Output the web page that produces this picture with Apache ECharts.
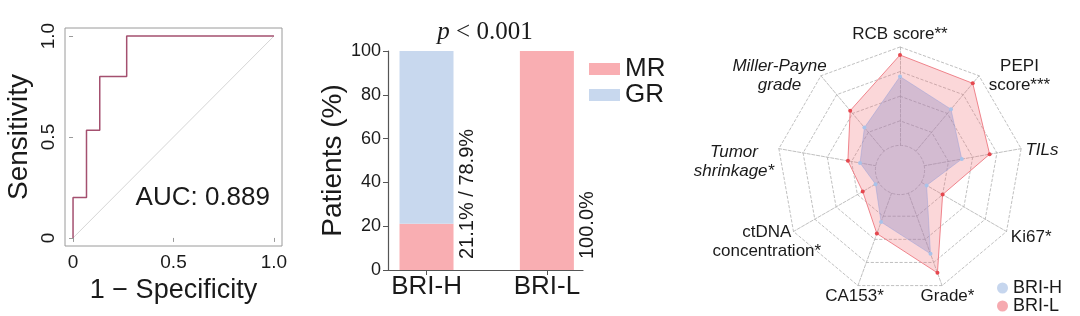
<!DOCTYPE html>
<html><head><meta charset="utf-8">
<script src="https://cdn.jsdelivr.net/npm/echarts@6/dist/echarts.min.js"></script>
<style>html,body{margin:0;padding:0;background:#fff}#c{width:1080px;height:316px}</style>
</head><body><div id="c"></div>
<script>
// ---------- DATA ----------
// ROC curve (1 - specificity, sensitivity)
const rocFpr = [0, 0, 0.067, 0.067, 0.133, 0.133, 0.267, 0.267, 1];
const rocTpr = [0, 0.2, 0.2, 0.533, 0.533, 0.8, 0.8, 1, 1];
const rocTicks = [0, 0.5, 1];
const aucText = 'AUC: 0.889';
// Stacked bars (% patients)
const groups = ['BRI-H', 'BRI-L'];
const mrPct = [21.1, 100.0];
const grPct = [78.9, 0];
const barTicks = [0, 20, 40, 60, 80, 100];
// Radar (clockwise from top)
const radarNames = ['RCB score**', 'PEPI\nscore***', 'TILs', 'Ki67*', 'Grade*', 'CA153*',
  'ctDNA\nconcentration*', 'Tumor\nshrinkage*', 'Miller-Payne\ngrade'];
const briH = [0.76, 0.645, 0.51, 0.25, 0.725, 0.45, 0.23, 0.33, 0.45];
const briL = [0.935, 0.92, 0.74, 0.40, 0.89, 0.55, 0.35, 0.43, 0.63];

// ---------- STYLE / LAYOUT ----------
const FONT = '"Liberation Sans", Arial, Helvetica, sans-serif';
const SERIF = '"Liberation Serif", "Times New Roman", serif';
const italicIdx = [2, 7, 8];
const nameShift = [[0, -3], [34, 8], [11, 3], [16, 1], [2, 1], [0, 1], [-18, 5], [-35, 15], [-35, 8]];
const ccwOrder = [0, 8, 7, 6, 5, 4, 3, 2, 1];

const rich = {};
const nameText = {};
radarNames.forEach((nm, i) => {
  const lines = nm.split('\n');
  const dx = nameShift[i][0], dy = nameShift[i][1];
  const parts = lines.map((ln, j) => {
    const key = 'r' + i + '_' + j;
    const pt = (j === 0 && dy > 0) ? 2 * dy : 0;
    const pb = (j === lines.length - 1 && dy < 0) ? -2 * dy : 0;
    const pl = dx > 0 ? 2 * dx : 0;
    const pr = dx < 0 ? -2 * dx : 0;
    rich[key] = {
      fontSize: 17, fontFamily: FONT, color: '#1a1a1a', align: 'center',
      fontStyle: italicIdx.indexOf(i) >= 0 ? 'italic' : 'normal',
      padding: [pt, pr, pb, pl], lineHeight: 19 + pt + pb
    };
    return '{' + key + '|' + ln + '}';
  });
  nameText[nm] = parts.join('\n');
});

const chart = echarts.init(document.getElementById('c'), null, {renderer: 'canvas'});
const gridLine = '#b0b0b0';

chart.setOption({
  animation: false,
  backgroundColor: '#fff',
  textStyle: {fontFamily: FONT, color: '#1a1a1a'},
  title: [
    {text: aucText, left: 270, top: 185, textAlign: 'right', padding: 0,
     textStyle: {fontSize: 26, fontWeight: 'normal', color: '#1a1a1a', fontFamily: FONT}},
    {text: '{i|p} < 0.001', left: 485, top: 20, textAlign: 'center', padding: 0,
     textStyle: {fontSize: 25, fontWeight: 'normal', color: '#1a1a1a', fontFamily: SERIF,
       rich: {i: {fontStyle: 'italic', fontSize: 25, fontFamily: SERIF, color: '#1a1a1a'}}}}
  ],
  legend: [
    {data: ['MR', 'GR'], orient: 'vertical', left: 589, top: 56, padding: 0, itemWidth: 31, itemHeight: 12, itemGap: 0,
     icon: 'rect', selectedMode: false,
     textStyle: {fontSize: 26, color: '#1a1a1a', lineHeight: 25, fontFamily: FONT}},
    {data: [{name: 'BRI-H', itemStyle: {color: '#c6d6ee'}}, {name: 'BRI-L', itemStyle: {color: '#f6aab0'}}],
     orient: 'vertical', left: 997, top: 279, padding: 0, itemWidth: 11, itemHeight: 11, itemGap: 0,
     icon: 'circle', selectedMode: false,
     textStyle: {fontSize: 18, color: '#1a1a1a', lineHeight: 16, fontFamily: FONT}}
  ],
  grid: [
    {left: 65, top: 28, width: 217, height: 218, show: true, borderColor: '#9a9a9a', borderWidth: 1, backgroundColor: 'transparent'},
    {left: 388, top: 51, width: 195, height: 219}
  ],
  xAxis: [
    {gridIndex: 0, type: 'value', min: -0.04, max: 1.04,
     axisLine: {show: false},
     axisTick: {show: true, customValues: rocTicks, length: 4, lineStyle: {color: '#9a9a9a'}},
     axisLabel: {customValues: rocTicks, formatter: v => v === 0 ? '0' : v.toFixed(1), fontSize: 19, margin: 7, color: '#1a1a1a'},
     splitLine: {show: false},
     name: '1 \u2212 Specificity', nameLocation: 'middle', nameGap: 22,
     nameTextStyle: {fontSize: 27, color: '#1a1a1a'}},
    {gridIndex: 1, type: 'value', min: 0.68, max: 2.3,
     axisLine: {show: true, lineStyle: {color: '#555', width: 1.2}},
     axisTick: {show: true, customValues: [1, 2], length: 5, lineStyle: {color: '#555'}},
     axisLabel: {customValues: [1, 2], formatter: v => groups[Math.round(v) - 1], fontSize: 26, margin: 4, color: '#1a1a1a'},
     splitLine: {show: false}}
  ],
  yAxis: [
    {gridIndex: 0, type: 'value', min: -0.04, max: 1.04,
     axisLine: {show: false},
     axisTick: {show: true, customValues: rocTicks, length: 4, lineStyle: {color: '#9a9a9a'}},
     axisLabel: {customValues: rocTicks, formatter: v => v === 0 ? '0' : v.toFixed(1), fontSize: 19, margin: 7, rotate: 90, color: '#1a1a1a'},
     splitLine: {show: false},
     name: 'Sensitivity', nameLocation: 'middle', nameGap: 32,
     nameTextStyle: {fontSize: 28, color: '#1a1a1a'}},
    {gridIndex: 1, type: 'value', min: 0, max: 100, interval: 20,
     axisLine: {show: true, lineStyle: {color: '#555', width: 1.2}},
     axisTick: {show: true, length: 5, lineStyle: {color: '#555'}},
     axisLabel: {fontSize: 18, margin: 7, color: '#1a1a1a'},
     splitLine: {show: false},
     name: 'Patients (%)', nameLocation: 'middle', nameGap: 40,
     nameTextStyle: {fontSize: 28, color: '#1a1a1a'}}
  ],
  radar: [
    {center: [900, 170], radius: 123, startAngle: 90, shape: 'polygon', splitNumber: 5, nameGap: 10,
     indicator: ccwOrder.map(i => ({name: radarNames[i], min: 0, max: 1})),
     axisName: {formatter: (n) => nameText[n], rich: rich, align: 'center', verticalAlign: 'middle', color: '#1a1a1a', fontSize: 17},
     axisLine: {lineStyle: {color: gridLine, type: 'dashed', width: 0.8}},
     splitLine: {lineStyle: {color: [gridLine, 'rgba(0,0,0,0)', gridLine, gridLine, gridLine, gridLine], type: 'dashed', width: 0.8}},
     splitArea: {show: false}},
    {center: [900, 170], radius: 24.6, startAngle: 90, shape: 'circle', splitNumber: 1, z: 1,
     indicator: ccwOrder.map(i => ({name: '', min: 0, max: 1})),
     axisName: {show: false},
     axisLine: {show: false},
     splitLine: {lineStyle: {color: gridLine, type: 'dashed', width: 0.8}},
     splitArea: {show: true, areaStyle: {color: ['#ffffff']}}}
  ],
  series: [
    {type: 'line', xAxisIndex: 0, yAxisIndex: 0, data: [[0, 0], [1, 1]], symbol: 'none', silent: true,
     lineStyle: {color: '#d6d6d6', width: 1}},
    {type: 'line', xAxisIndex: 0, yAxisIndex: 0, data: rocFpr.map((x, i) => [x, rocTpr[i]]), symbol: 'none',
     lineStyle: {color: '#a4506f', width: 1.5}},
    {type: 'bar', name: 'MR', xAxisIndex: 1, yAxisIndex: 1, stack: 'pct', barWidth: 54,
     dimensions: ['pct', 'group'], encode: {x: 'group', y: 'pct'},
     data: groups.map((g, i) => [mrPct[i], i + 1]),
     itemStyle: {color: '#f9aeb2'},
     label: {show: true, position: ['100%', '100%'], offset: [11, 14], rotate: 90, align: 'left', verticalAlign: 'middle',
       fontSize: 20, color: '#1a1a1a',
       formatter: p => {
         const i = p.dataIndex;
         return grPct[i] > 0 ? mrPct[i].toFixed(1) + '% / ' + grPct[i].toFixed(1) + '%' : mrPct[i].toFixed(1) + '%';
       }}},
    {type: 'bar', name: 'GR', xAxisIndex: 1, yAxisIndex: 1, stack: 'pct', barWidth: 54,
     dimensions: ['pct', 'group'], encode: {x: 'group', y: 'pct'},
     data: groups.map((g, i) => [grPct[i], i + 1]),
     itemStyle: {color: '#c8d8ee'}},
    {type: 'radar', radarIndex: 0, z: 3,
     data: [
       {name: 'BRI-L', value: ccwOrder.map(i => briL[i]), symbol: 'circle', symbolSize: 4,
        itemStyle: {color: '#e5484f'},
        lineStyle: {color: '#f08890', width: 1},
        areaStyle: {color: 'rgba(240,110,120,0.4)'}},
       {name: 'BRI-H', value: ccwOrder.map(i => briH[i]), symbol: 'circle', symbolSize: 4,
        itemStyle: {color: '#a9c2e9'},
        lineStyle: {color: 'rgba(170,175,220,0.7)', width: 0.8},
        areaStyle: {color: 'rgba(140,135,195,0.5)'}}
     ]}
  ]
});
</script></body></html>
